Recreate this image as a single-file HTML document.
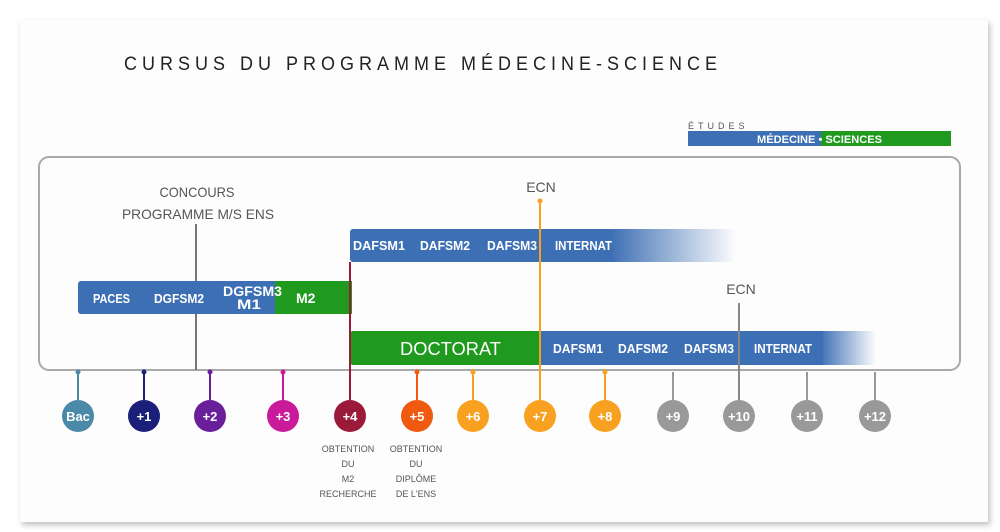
<!DOCTYPE html>
<html><head><meta charset="utf-8"><style>
html,body{margin:0;padding:0;background:#fff;width:1000px;height:532px;overflow:hidden}
svg{display:block}
text{font-family:"Liberation Sans",sans-serif}
</style></head><body>
<svg width="1000" height="532" viewBox="0 0 1000 532" xmlns="http://www.w3.org/2000/svg">
<defs>
<linearGradient id="f1" x1="0" x2="1"><stop offset="0" stop-color="#3d6fb4"/><stop offset="1" stop-color="#3d6fb4" stop-opacity="0"/></linearGradient>
<filter id="sh" x="-5%" y="-5%" width="110%" height="110%"><feDropShadow dx="2" dy="3" stdDeviation="3" flood-color="#000" flood-opacity="0.25"/></filter>
</defs>
<rect x="20" y="20" width="968" height="502" fill="#fdfdfd" filter="url(#sh)"/>
<text x="124" y="70" font-size="19" fill="#222" letter-spacing="5.3" textLength="598" lengthAdjust="spacingAndGlyphs">CURSUS DU PROGRAMME MÉDECINE-SCIENCE</text>
<text x="688" y="129" font-size="9" fill="#555" letter-spacing="4">ÉTUDES</text>
<rect x="688" y="131" width="133" height="15" fill="#3d6fb4"/>
<rect x="821" y="131" width="130" height="15" fill="#1f9a1f"/>
<text x="757" y="143" font-size="11" font-weight="bold" fill="#fff" textLength="125" lengthAdjust="spacingAndGlyphs">MÉDECINE • SCIENCES</text>
<rect x="39" y="157" width="921" height="213" rx="10" fill="none" stroke="#a9a9a9" stroke-width="2"/>
<line x1="196" y1="224" x2="196" y2="370" stroke="#777" stroke-width="2"/>
<rect x="350" y="229" width="262" height="33" rx="3" fill="#3d6fb4"/>
<rect x="610" y="229" width="126" height="33" fill="url(#f1)"/>
<g font-size="13" font-weight="bold" fill="#fff">
<text x="353" y="250" textLength="52" lengthAdjust="spacingAndGlyphs">DAFSM1</text>
<text x="420" y="250" textLength="50" lengthAdjust="spacingAndGlyphs">DAFSM2</text>
<text x="487" y="250" textLength="50" lengthAdjust="spacingAndGlyphs">DAFSM3</text>
<text x="555" y="250" textLength="57" lengthAdjust="spacingAndGlyphs">INTERNAT</text>
</g>
<rect x="78" y="281" width="200" height="33" rx="3" fill="#3d6fb4"/>
<rect x="275" y="281" width="77" height="33" fill="#1f9a1f"/>
<g font-size="13" font-weight="bold" fill="#fff">
<text x="93" y="303" textLength="37" lengthAdjust="spacingAndGlyphs">PACES</text>
<text x="154" y="303" textLength="50" lengthAdjust="spacingAndGlyphs">DGFSM2</text>
<text x="223" y="296" font-size="14" textLength="59" lengthAdjust="spacingAndGlyphs">DGFSM3</text>
<text x="237" y="309" font-size="14" textLength="24" lengthAdjust="spacingAndGlyphs">M1</text>
<text x="296" y="303" font-size="14">M2</text>
</g>
<rect x="538" y="331" width="285" height="34" fill="#3d6fb4"/>
<rect x="820" y="331" width="56" height="34" fill="url(#f1)"/>
<rect x="350" y="331" width="190" height="34" rx="3" fill="#1f9a1f"/>
<text x="400" y="355" font-size="18" fill="#fff" textLength="101" lengthAdjust="spacingAndGlyphs">DOCTORAT</text>
<g font-size="13" font-weight="bold" fill="#fff">
<text x="553" y="353" textLength="50" lengthAdjust="spacingAndGlyphs">DAFSM1</text>
<text x="618" y="353" textLength="50" lengthAdjust="spacingAndGlyphs">DAFSM2</text>
<text x="684" y="353" textLength="50" lengthAdjust="spacingAndGlyphs">DAFSM3</text>
<text x="754" y="353" textLength="58" lengthAdjust="spacingAndGlyphs">INTERNAT</text>
</g>
<line x1="350" y1="262" x2="350" y2="400" stroke="#9a1a3a" stroke-width="2"/>
<line x1="540" y1="201" x2="540" y2="400" stroke="#f8a020" stroke-width="2"/>
<circle cx="540" cy="201" r="2.5" fill="#f8a020"/>
<line x1="739" y1="303" x2="739" y2="400" stroke="#888" stroke-width="2"/>
<g fill="#555" font-size="14" text-anchor="middle">
<text x="197" y="197" textLength="75" lengthAdjust="spacingAndGlyphs">CONCOURS</text>
<text x="198" y="219" textLength="152" lengthAdjust="spacingAndGlyphs">PROGRAMME M/S ENS</text>
<text x="541" y="192">ECN</text>
<text x="741" y="294">ECN</text>
</g>
<g font-size="13" font-weight="bold" fill="#fff" text-anchor="middle">
<line x1="78" y1="372" x2="78" y2="400" stroke="#4a8aa8" stroke-width="2"/><circle cx="78" cy="372" r="2.5" fill="#4a8aa8"/><circle cx="78" cy="416" r="16" fill="#4a8aa8"/><text x="78" y="421">Bac</text>
<line x1="144" y1="372" x2="144" y2="400" stroke="#1a1f7a" stroke-width="2"/><circle cx="144" cy="372" r="2.5" fill="#1a1f7a"/><circle cx="144" cy="416" r="16" fill="#1a1f7a"/><text x="144" y="421">+1</text>
<line x1="210" y1="372" x2="210" y2="400" stroke="#6a1f9a" stroke-width="2"/><circle cx="210" cy="372" r="2.5" fill="#6a1f9a"/><circle cx="210" cy="416" r="16" fill="#6a1f9a"/><text x="210" y="421">+2</text>
<line x1="283" y1="372" x2="283" y2="400" stroke="#c81a9a" stroke-width="2"/><circle cx="283" cy="372" r="2.5" fill="#c81a9a"/><circle cx="283" cy="416" r="16" fill="#c81a9a"/><text x="283" y="421">+3</text>
<circle cx="350" cy="416" r="16" fill="#9a1a3a"/><text x="350" y="421">+4</text>
<line x1="417" y1="372" x2="417" y2="400" stroke="#f05a10" stroke-width="2"/><circle cx="417" cy="372" r="2.5" fill="#f05a10"/><circle cx="417" cy="416" r="16" fill="#f05a10"/><text x="417" y="421">+5</text>
<line x1="473" y1="372" x2="473" y2="400" stroke="#f8a020" stroke-width="2"/><circle cx="473" cy="372" r="2.5" fill="#f8a020"/><circle cx="473" cy="416" r="16" fill="#f8a020"/><text x="473" y="421">+6</text>
<circle cx="540" cy="416" r="16" fill="#f8a020"/><text x="540" y="421">+7</text>
<line x1="605" y1="372" x2="605" y2="400" stroke="#f8a020" stroke-width="2"/><circle cx="605" cy="372" r="2.5" fill="#f8a020"/><circle cx="605" cy="416" r="16" fill="#f8a020"/><text x="605" y="421">+8</text>
<line x1="673" y1="372" x2="673" y2="400" stroke="#999" stroke-width="2"/><circle cx="673" cy="416" r="16" fill="#999"/><text x="673" y="421">+9</text>
<circle cx="739" cy="416" r="16" fill="#999"/><text x="739" y="421">+10</text>
<line x1="807" y1="372" x2="807" y2="400" stroke="#999" stroke-width="2"/><circle cx="807" cy="416" r="16" fill="#999"/><text x="807" y="421">+11</text>
<line x1="875" y1="372" x2="875" y2="400" stroke="#999" stroke-width="2"/><circle cx="875" cy="416" r="16" fill="#999"/><text x="875" y="421">+12</text>
</g>
<g font-size="9" fill="#555" text-anchor="middle">
<text x="348" y="452">OBTENTION</text><text x="348" y="467">DU</text><text x="348" y="482">M2</text><text x="348" y="497">RECHERCHE</text>
<text x="416" y="452">OBTENTION</text><text x="416" y="467">DU</text><text x="416" y="482">DIPLÔME</text><text x="416" y="497">DE L'ENS</text>
</g>
</svg>
</body></html>
